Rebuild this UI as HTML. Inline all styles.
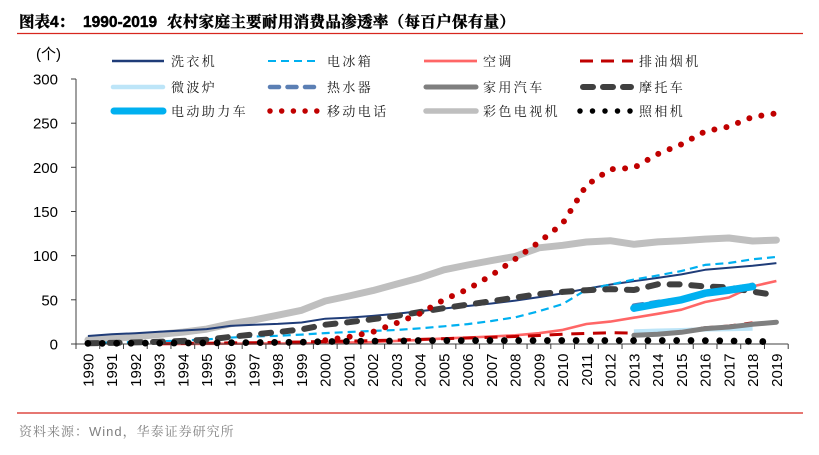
<!DOCTYPE html>
<html>
<head>
<meta charset="utf-8">
<style>
  html,body{margin:0;padding:0;background:#fff;}
  body{width:819px;height:455px;overflow:hidden;}
  svg{display:block;}
  .lg{font-family:"Liberation Serif","Noto Serif CJK SC",serif;font-size:13px;fill:#1a1a1a;letter-spacing:2.4px;}
  .tk{font-family:"Liberation Sans",Arial,sans-serif;font-size:15px;fill:#000;}
  .tt{font-family:"Liberation Sans","Noto Serif CJK SC",serif;font-weight:bold;font-size:15.5px;fill:#000;stroke:#000;stroke-width:0.45;}
</style>
</head>
<body>
<svg width="819" height="455" viewBox="0 0 819 455" xmlns="http://www.w3.org/2000/svg">
  <rect x="0" y="0" width="819" height="455" fill="#fff"/>

  <!-- Title -->
  <text x="19" y="27" class="tt">图表4：</text>
  <text x="83" y="27" class="tt">1990-2019</text>
  <text x="167" y="27" class="tt" textLength="348" lengthAdjust="spacing">农村家庭主要耐用消费品渗透率（每百户保有量）</text>
  <line x1="17" y1="33.5" x2="803" y2="33.5" stroke="#D7261E" stroke-width="1.3"/>

  <!-- unit -->
  <text x="36" y="59" class="tk" font-family="'Liberation Sans','Noto Sans CJK SC',sans-serif">(个)</text>

  <!-- Y axis -->
  <line x1="76" y1="79" x2="76" y2="344" stroke="#404040" stroke-width="1"/>
  <g stroke="#404040" stroke-width="1">
    <line x1="71" y1="79" x2="76" y2="79"/>
    <line x1="71" y1="123.2" x2="76" y2="123.2"/>
    <line x1="71" y1="167.3" x2="76" y2="167.3"/>
    <line x1="71" y1="211.5" x2="76" y2="211.5"/>
    <line x1="71" y1="255.7" x2="76" y2="255.7"/>
    <line x1="71" y1="299.8" x2="76" y2="299.8"/>
    <line x1="71" y1="344" x2="76" y2="344"/>
  </g>
  <g class="tk" text-anchor="end">
    <text x="58" y="84.5">300</text>
    <text x="58" y="128.7">250</text>
    <text x="58" y="172.8">200</text>
    <text x="58" y="217">150</text>
    <text x="58" y="261.2">100</text>
    <text x="58" y="305.3">50</text>
    <text x="58" y="349.5">0</text>
  </g>

  <!-- Legend -->
  <line x1="112" y1="61" x2="164" y2="61" stroke="#1F3C78" stroke-width="2.5"/>
  <text x="171" y="66" class="lg">洗衣机</text>
  <line x1="268" y1="61" x2="318" y2="61" stroke="#00B0F0" stroke-width="2" stroke-dasharray="8 5"/>
  <text x="327" y="66" class="lg">电冰箱</text>
  <line x1="424" y1="61" x2="477" y2="61" stroke="#FF6666" stroke-width="2.7"/>
  <text x="483" y="66" class="lg">空调</text>
  <line x1="580" y1="61" x2="633" y2="61" stroke="#C00000" stroke-width="3" stroke-dasharray="13 8"/>
  <text x="639" y="66" class="lg">排油烟机</text>

  <line x1="113" y1="87" x2="163" y2="87" stroke="#BDE5F8" stroke-width="4.5" stroke-linecap="round"/>
  <text x="171" y="92" class="lg">微波炉</text>
  <line x1="270" y1="87" x2="317" y2="87" stroke="#5B7FB4" stroke-width="4.5" stroke-linecap="round" stroke-dasharray="9 8.5"/>
  <text x="327" y="92" class="lg">热水器</text>
  <line x1="426" y1="87" x2="476" y2="87" stroke="#7F7F7F" stroke-width="5" stroke-linecap="round"/>
  <text x="483" y="92" class="lg">家用汽车</text>
  <line x1="583" y1="87" x2="631" y2="87" stroke="#404040" stroke-width="6" stroke-linecap="round" stroke-dasharray="10 10"/>
  <text x="639" y="92" class="lg">摩托车</text>

  <line x1="114" y1="111" x2="163" y2="111" stroke="#00B0F0" stroke-width="7" stroke-linecap="round"/>
  <text x="171" y="116" class="lg">电动助力车</text>
  <line x1="270" y1="111" x2="318" y2="111" stroke="#C00000" stroke-width="5.5" stroke-linecap="round" stroke-dasharray="0 11.7"/>
  <text x="327" y="116" class="lg">移动电话</text>
  <line x1="426" y1="111" x2="476" y2="111" stroke="#BFBFBF" stroke-width="5.5" stroke-linecap="round"/>
  <text x="483" y="116" class="lg">彩色电视机</text>
  <line x1="580" y1="111" x2="631" y2="111" stroke="#000" stroke-width="5.5" stroke-linecap="round" stroke-dasharray="0 12.5"/>
  <text x="639" y="116" class="lg">照相机</text>

  <!-- Series -->
  <g fill="none" stroke-linejoin="round">
    <polyline stroke="#BFBFBF" stroke-width="7" stroke-linecap="round" points="87.9,339.9 111.6,338.4 135.4,336.9 159.1,334.4 182.9,332.1 206.6,329.1 230.3,323.8 254.1,319.9 277.8,315.2 301.6,310.3 325.3,301.0 349.0,296.0 372.8,290.6 396.5,284.1 420.3,277.7 444.0,269.8 467.7,265.0 491.5,260.6 515.2,256.4 539.0,247.8 562.7,245.3 586.4,242.0 610.2,240.7 633.9,244.3 657.7,241.9 681.4,240.7 705.1,239.1 728.9,238.0 752.6,241.0 776.4,240.1"/>
    <polyline stroke="#1F3C78" stroke-width="2" points="87.9,336.0 111.6,334.3 135.4,333.2 159.1,331.8 182.9,330.5 206.6,329.1 230.3,325.9 254.1,324.7 277.8,323.9 301.6,322.5 325.3,318.7 349.0,317.6 372.8,315.9 396.5,313.7 420.3,311.1 444.0,308.5 467.7,306.0 491.5,303.5 515.2,300.6 539.0,297.1 562.7,293.4 586.4,288.7 610.2,284.6 633.9,281.1 657.7,277.9 681.4,274.4 705.1,269.8 728.9,267.8 752.6,265.8 776.4,263.1"/>
    <polyline stroke="#00B0F0" stroke-width="2.2" stroke-dasharray="8 5" points="87.9,342.9 111.6,342.6 135.4,342.1 159.1,341.3 182.9,340.5 206.6,339.4 230.3,337.6 254.1,336.5 277.8,335.8 301.6,334.6 325.3,333.1 349.0,332.0 372.8,330.9 396.5,330.0 420.3,328.3 444.0,326.3 467.7,324.1 491.5,321.0 515.2,317.3 539.0,311.2 562.7,304.1 586.4,289.7 610.2,284.6 633.9,279.6 657.7,275.5 681.4,271.0 705.1,264.9 728.9,263.0 752.6,259.3 776.4,256.9"/>
    <polyline stroke="#FF6666" stroke-width="2.6" points="159.1,344.0 182.9,343.9 206.6,343.8 230.3,343.7 254.1,343.6 277.8,343.5 301.6,343.4 325.3,342.9 349.0,342.5 372.8,342.0 396.5,340.9 420.3,339.9 444.0,338.4 467.7,337.6 491.5,336.5 515.2,335.3 539.0,333.2 562.7,329.9 586.4,324.0 610.2,321.6 633.9,317.7 657.7,313.8 681.4,309.7 705.1,302.0 728.9,297.5 752.6,286.4 776.4,281.0"/>
    <polyline stroke="#C00000" stroke-width="3" stroke-dasharray="13 8.7" points="159.1,343.7 182.9,343.5 206.6,343.2 230.3,342.9 254.1,342.7 277.8,342.3 301.6,342.0 325.3,341.5 349.0,341.1 372.8,340.6 396.5,340.0 420.3,339.4 444.0,338.7 467.7,338.0 491.5,337.3 515.2,336.5 539.0,335.5 562.7,334.2 586.4,333.4 610.2,332.7 633.9,333.1 657.7,331.7 681.4,330.5 705.1,327.8 728.9,326.0 752.6,322.8"/>
    <polyline stroke="#BDE5F8" stroke-width="4.5" points="633.9,331.6 657.7,330.8 681.4,330.3 705.1,329.4 728.9,329.0 752.6,328.5"/>
    <polyline stroke="#7F7F7F" stroke-width="5" stroke-linecap="round" points="633.9,335.3 657.7,334.3 681.4,332.3 705.1,328.6 728.9,327.0 752.6,324.3 776.4,322.2"/>
    <polyline stroke="#404040" stroke-width="6" stroke-linecap="round" stroke-dasharray="10 11.7" points="87.9,343.2 111.6,342.9 135.4,342.4 159.1,341.8 182.9,340.9 206.6,339.7 230.3,336.9 254.1,334.4 277.8,332.1 301.6,329.4 325.3,324.7 349.0,322.2 372.8,319.2 396.5,315.9 420.3,312.0 444.0,308.1 467.7,304.6 491.5,301.2 515.2,297.6 539.0,294.0 562.7,291.9 586.4,290.2 610.2,289.1 633.9,290.0 657.7,284.3 681.4,284.4 705.1,286.5 728.9,287.4 752.6,291.6 776.4,295.3"/>
    <polyline stroke="#5B7FB4" stroke-width="4.5" stroke-linecap="round" stroke-dasharray="9 8" points="633.9,305.6 657.7,302.0 681.4,299.0 705.1,291.9 728.9,289.2 752.6,284.8"/>
    <polyline stroke="#00B0F0" stroke-width="7.5" stroke-linecap="round" points="633.9,308.2 657.7,303.8 681.4,299.8 705.1,293.2 728.9,290.1 752.6,286.6"/>
    <polyline stroke="#C00000" stroke-width="6" stroke-linecap="round" stroke-dasharray="0 12.3" points="325.3,340.2 349.0,336.9 372.8,331.9 396.5,323.1 420.3,313.4 444.0,299.7 467.7,289.2 491.5,275.3 515.2,259.1 539.0,242.2 562.7,223.4 586.4,185.3 610.2,169.3 633.9,167.8 657.7,154.1 681.4,144.3 705.1,131.4 728.9,126.6 752.6,117.0 776.4,113.3"/>
  </g>

  <!-- X axis -->
  <line x1="76" y1="344" x2="788.2" y2="344" stroke="#404040" stroke-width="1"/>
  <g stroke="#404040" stroke-width="1">
    <line x1="76" y1="344" x2="76" y2="349"/>
    <line x1="99.74" y1="344" x2="99.74" y2="349"/>
    <line x1="123.48" y1="344" x2="123.48" y2="349"/>
    <line x1="147.22" y1="344" x2="147.22" y2="349"/>
    <line x1="170.96" y1="344" x2="170.96" y2="349"/>
    <line x1="194.7" y1="344" x2="194.7" y2="349"/>
    <line x1="218.44" y1="344" x2="218.44" y2="349"/>
    <line x1="242.18" y1="344" x2="242.18" y2="349"/>
    <line x1="265.92" y1="344" x2="265.92" y2="349"/>
    <line x1="289.66" y1="344" x2="289.66" y2="349"/>
    <line x1="313.4" y1="344" x2="313.4" y2="349"/>
    <line x1="337.14" y1="344" x2="337.14" y2="349"/>
    <line x1="360.88" y1="344" x2="360.88" y2="349"/>
    <line x1="384.62" y1="344" x2="384.62" y2="349"/>
    <line x1="408.36" y1="344" x2="408.36" y2="349"/>
    <line x1="432.1" y1="344" x2="432.1" y2="349"/>
    <line x1="455.84" y1="344" x2="455.84" y2="349"/>
    <line x1="479.58" y1="344" x2="479.58" y2="349"/>
    <line x1="503.32" y1="344" x2="503.32" y2="349"/>
    <line x1="527.06" y1="344" x2="527.06" y2="349"/>
    <line x1="550.8" y1="344" x2="550.8" y2="349"/>
    <line x1="574.54" y1="344" x2="574.54" y2="349"/>
    <line x1="598.28" y1="344" x2="598.28" y2="349"/>
    <line x1="622.02" y1="344" x2="622.02" y2="349"/>
    <line x1="645.76" y1="344" x2="645.76" y2="349"/>
    <line x1="669.5" y1="344" x2="669.5" y2="349"/>
    <line x1="693.24" y1="344" x2="693.24" y2="349"/>
    <line x1="716.98" y1="344" x2="716.98" y2="349"/>
    <line x1="740.72" y1="344" x2="740.72" y2="349"/>
    <line x1="764.46" y1="344" x2="764.46" y2="349"/>
    <line x1="788.2" y1="344" x2="788.2" y2="349"/>
  </g>

  <!-- 照相机 -->
  <polyline fill="none" stroke="#000" stroke-width="6.8" stroke-linecap="round" stroke-linejoin="round" stroke-dasharray="0 14.36" points="87.9,343.4 111.6,343.3 135.4,343.2 159.1,343.1 182.9,343.0 206.6,342.9 230.3,342.7 254.1,342.6 277.8,342.4 301.6,342.2 325.3,341.5 349.0,341.4 372.8,341.2 396.5,341.0 420.3,340.5 444.0,340.5 467.7,340.5 491.5,340.5 515.2,340.5 539.0,340.5 562.7,340.5 586.4,340.5 610.2,340.5 633.9,340.5 657.7,340.5 681.4,340.5 705.1,340.6 728.9,340.9 752.6,341.4 776.4,341.8"/>

  <!-- X labels -->
  <g class="tk" text-anchor="end">
    <text transform="translate(93.3,353.5) rotate(-90)">1990</text>
    <text transform="translate(117.0,353.5) rotate(-90)">1991</text>
    <text transform="translate(140.8,353.5) rotate(-90)">1992</text>
    <text transform="translate(164.5,353.5) rotate(-90)">1993</text>
    <text transform="translate(188.3,353.5) rotate(-90)">1994</text>
    <text transform="translate(212.0,353.5) rotate(-90)">1995</text>
    <text transform="translate(235.7,353.5) rotate(-90)">1996</text>
    <text transform="translate(259.5,353.5) rotate(-90)">1997</text>
    <text transform="translate(283.2,353.5) rotate(-90)">1998</text>
    <text transform="translate(307.0,353.5) rotate(-90)">1999</text>
    <text transform="translate(330.7,353.5) rotate(-90)">2000</text>
    <text transform="translate(354.4,353.5) rotate(-90)">2001</text>
    <text transform="translate(378.2,353.5) rotate(-90)">2002</text>
    <text transform="translate(401.9,353.5) rotate(-90)">2003</text>
    <text transform="translate(425.7,353.5) rotate(-90)">2004</text>
    <text transform="translate(449.4,353.5) rotate(-90)">2005</text>
    <text transform="translate(473.1,353.5) rotate(-90)">2006</text>
    <text transform="translate(496.9,353.5) rotate(-90)">2007</text>
    <text transform="translate(520.6,353.5) rotate(-90)">2008</text>
    <text transform="translate(544.4,353.5) rotate(-90)">2009</text>
    <text transform="translate(568.1,353.5) rotate(-90)">2010</text>
    <text transform="translate(591.8,353.5) rotate(-90)">2011</text>
    <text transform="translate(615.6,353.5) rotate(-90)">2012</text>
    <text transform="translate(639.3,353.5) rotate(-90)">2013</text>
    <text transform="translate(663.1,353.5) rotate(-90)">2014</text>
    <text transform="translate(686.8,353.5) rotate(-90)">2015</text>
    <text transform="translate(710.5,353.5) rotate(-90)">2016</text>
    <text transform="translate(734.3,353.5) rotate(-90)">2017</text>
    <text transform="translate(758.0,353.5) rotate(-90)">2018</text>
    <text transform="translate(781.8,353.5) rotate(-90)">2019</text>
  </g>

  <!-- Footer -->
  <line x1="17" y1="413" x2="803" y2="413" stroke="#D7261E" stroke-width="1.3"/>
  <text x="19" y="436" font-family="'Liberation Sans','Noto Serif CJK SC',serif" font-size="13" fill="#808080" letter-spacing="1">资料来源：Wind，华泰证券研究所</text>
</svg>
</body>
</html>
